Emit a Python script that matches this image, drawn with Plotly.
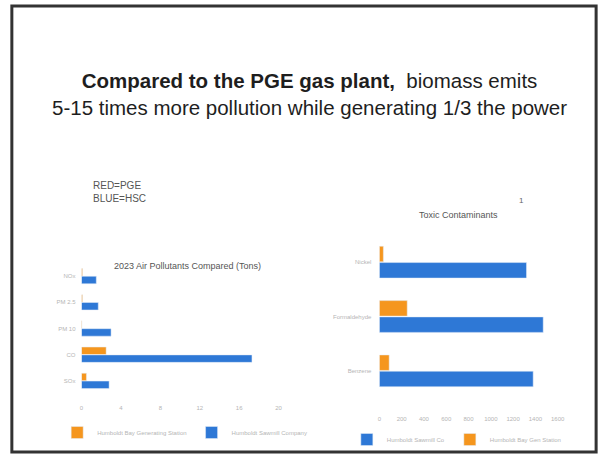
import plotly.graph_objects as go

W, H = 611, 455


def fx(px):
    return px / W


def fy(py):
    return 1 - py / H


# ---------------- data ----------------
air_categories = ["NOx", "PM 2.5", "PM 10", "CO", "SOx"]
air_pge = [0.1, 0.1, 0.05, 2.5, 0.5]
air_hsc = [1.5, 1.7, 3.0, 17.3, 2.8]
air_ticks = [0, 4, 8, 12, 16, 20]

tox_categories = ["Nickel", "Formaldehyde", "Benzene"]
tox_pge = [36, 250, 88]
tox_hsc = [1320, 1470, 1380]
tox_ticks = [0, 200, 400, 600, 800, 1000, 1200, 1400, 1600]

air_pge_name = "Humboldt Bay Generating Station"
air_hsc_name = "Humboldt Sawmill Company"
tox_pge_name = "Humboldt Bay Gen Station"
tox_hsc_name = "Humboldt Sawmill Co"

ORANGE = "#F5961E"
BLUE = "#2E78D6"
FAINT = "#b5b5b5"

fig = go.Figure()

fig.add_trace(go.Bar(y=air_categories, x=air_pge, orientation="h", name=air_pge_name,
                     marker_color=ORANGE, xaxis="x", yaxis="y", legend="legend"))
fig.add_trace(go.Bar(y=air_categories, x=air_hsc, orientation="h", name=air_hsc_name,
                     marker_color=BLUE, xaxis="x", yaxis="y", legend="legend"))
fig.add_trace(go.Bar(y=tox_categories, x=tox_pge, orientation="h", name=tox_pge_name,
                     marker_color=ORANGE, xaxis="x2", yaxis="y2", legend="legend2"))
fig.add_trace(go.Bar(y=tox_categories, x=tox_hsc, orientation="h", name=tox_hsc_name,
                     marker_color=BLUE, xaxis="x2", yaxis="y2", legend="legend2"))

axis_common = dict(showgrid=False, zeroline=False, showline=False, ticks="")

fig.update_layout(
    width=W, height=H, autosize=False,
    margin=dict(l=0, r=0, t=0, b=0),
    paper_bgcolor="white", plot_bgcolor="white",
    font=dict(family="Liberation Sans, Arial, sans-serif"),
    barmode="group", bargap=0.4, bargroupgap=0.05,
    xaxis=dict(domain=[fx(80.7), fx(280.7)], range=[0, 20], tickvals=air_ticks,
               anchor="y", tickfont=dict(size=6, color=FAINT), ticklabelstandoff=9,
               **axis_common),
    yaxis=dict(domain=[fy(394), fy(263)], autorange="reversed", anchor="x",
               tickfont=dict(size=6, color=FAINT), ticklabelstandoff=5, **axis_common),
    xaxis2=dict(domain=[fx(383), fx(564)], range=[0, 1600], tickvals=tox_ticks,
                anchor="y2", tickfont=dict(size=6, color=FAINT), ticklabelstandoff=16,
                **axis_common),
    yaxis2=dict(domain=[fy(398), fy(235)], autorange="reversed", anchor="x2",
                tickfont=dict(size=6, color=FAINT), ticklabelstandoff=7, **axis_common),
    legend=dict(x=fx(56), y=fy(418), xanchor="left", yanchor="top", orientation="h",
                font=dict(size=6, color=FAINT), bgcolor="rgba(0,0,0,0)",
                itemwidth=30),
    legend2=dict(x=fx(350), y=fy(425), xanchor="left", yanchor="top", orientation="h",
                 font=dict(size=6, color=FAINT), bgcolor="rgba(0,0,0,0)",
                 traceorder="reversed", itemwidth=30),
    showlegend=True,
)

# slide frame
fig.add_shape(type="rect", xref="paper", yref="paper",
              x0=fx(10), x1=fx(603), y0=fy(452), y1=fy(6),
              line=dict(color="#333", width=3), fillcolor="rgba(0,0,0,0)")

# main heading
fig.add_annotation(
    x=fx(312), y=fy(94), xref="paper", yref="paper", showarrow=False,
    text="<b>Compared to the PGE gas plant,</b>  biomass emits<br>"
         "5-15 times more pollution while generating 1/3 the power",
    font=dict(size=20.5, color="#1e1e1e", family="Liberation Sans, Arial, sans-serif"),
    align="center", xanchor="center", yanchor="middle")

# key
fig.add_annotation(x=fx(90), y=fy(192), xref="paper", yref="paper", showarrow=False,
                   text="RED=PGE<br>BLUE=HSC", align="left", xanchor="left",
                   yanchor="middle", font=dict(size=10, color="#555"))

# chart titles
fig.add_annotation(x=fx(188), y=fy(266), xref="paper", yref="paper", showarrow=False,
                   text="2023 Air Pollutants Compared (Tons)", xanchor="center",
                   yanchor="middle", font=dict(size=9, color="#555"))
fig.add_annotation(x=fx(463), y=fy(215), xref="paper", yref="paper", showarrow=False,
                   text="Toxic Contaminants", xanchor="center",
                   yanchor="middle", font=dict(size=9, color="#555"))
fig.add_annotation(x=fx(527), y=fy(200), xref="paper", yref="paper", showarrow=False,
                   text="1", xanchor="center", yanchor="middle",
                   font=dict(size=8, color="#666"))

fig.write_html("out.html")
